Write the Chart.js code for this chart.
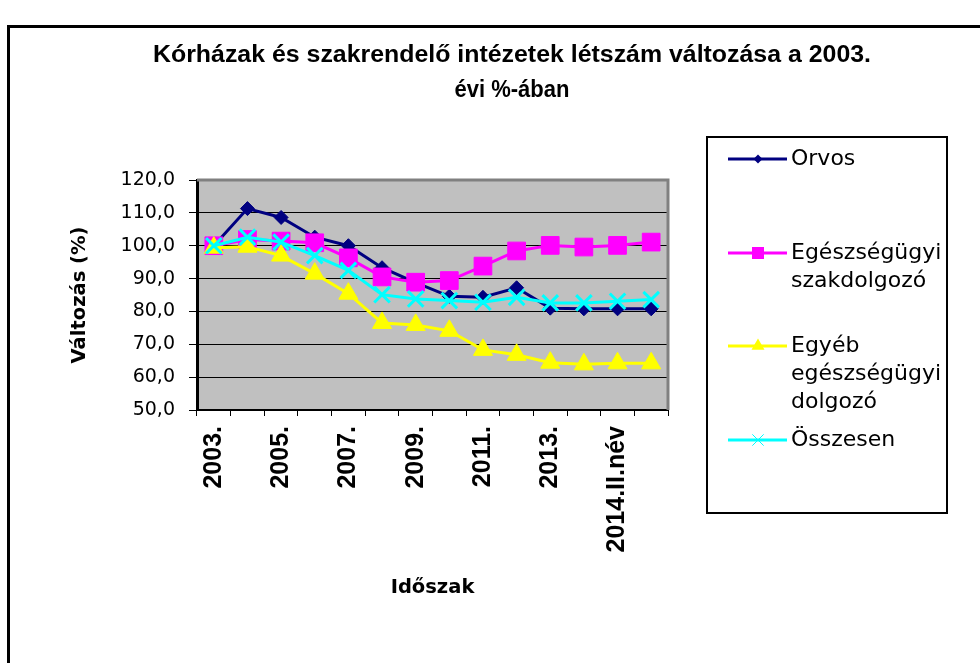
<!DOCTYPE html>
<html>
<head>
<meta charset="utf-8">
<script src="https://cdn.jsdelivr.net/npm/chart.js@4/dist/chart.umd.min.js"></script>
<style>
  html, body { margin: 0; padding: 0; background: #fff; }
  #wrap { width: 980px; height: 663px; }
</style>
</head>
<body>
<div id="wrap"><canvas id="letszamChart" width="980" height="663"></canvas></div>
<script>
// Időszakok (csak minden második felirat látszik)
const periods = ['2003.', '2004.', '2005.', '2006.', '2007.', '2008.', '2009.', '2010.',
                 '2011.', '2012.', '2013.', '2014.I.név', '2014.II.név', '2015.I.név'];

const orvos        = [100.0, 111.3, 108.6, 102.6, 100.0, 93.3, 88.8, 84.6, 84.3, 87.2, 81.0, 80.8, 80.8, 80.8];
const szakdolgozo  = [100.0, 101.9, 101.4, 100.9, 96.3, 90.5, 88.9, 89.4, 93.8, 98.4, 100.1, 99.6, 100.1, 101.1];
const egyebDolgozo = [99.4, 99.7, 97.0, 91.5, 85.4, 76.5, 75.9, 74.1, 68.3, 66.8, 64.4, 63.9, 64.2, 64.2];
const osszesen     = [100.0, 102.6, 101.1, 97.0, 92.5, 85.1, 83.8, 83.3, 82.8, 84.3, 82.6, 82.6, 83.1, 83.6];

const seriesNames = ['Orvos', 'Egészségügyi\nszakdolgozó', 'Egyéb\negészségügyi\ndolgozó', 'Összesen'];
const titleLines = ['Kórházak és szakrendelő intézetek létszám változása a 2003.', 'évi %-ában'];
const yMin = 50, yMax = 120, yStep = 10;

function drawMarker(ctx, style, x, y, r) {
    ctx.beginPath();
    if (style === 'rectRot') {
        ctx.moveTo(x - r, y); ctx.lineTo(x, y - r); ctx.lineTo(x + r, y); ctx.lineTo(x, y + r);
        ctx.closePath(); ctx.fill();
    } else if (style === 'rect') {
        const s = r * Math.SQRT1_2;
        ctx.rect(x - s, y - s, 2 * s, 2 * s); ctx.fill();
    } else if (style === 'triangle') {
        ctx.moveTo(x, y - r);
        ctx.lineTo(x + r * 0.866, y + r / 2);
        ctx.lineTo(x - r * 0.866, y + r / 2);
        ctx.closePath(); ctx.fill();
    } else if (style === 'crossRot') {
        const o = r * Math.SQRT1_2;
        ctx.moveTo(x - o, y - o); ctx.lineTo(x + o, y + o);
        ctx.moveTo(x + o, y - o); ctx.lineTo(x - o, y + o);
        ctx.stroke();
    }
}

const excelLook = {
    id: 'excelLook',
    beforeDraw(chart) {
        const { ctx, chartArea: a } = chart;
        ctx.save();
        ctx.fillStyle = '#fff';
        ctx.fillRect(0, 0, chart.width, chart.height);
        // külső keret
        ctx.fillStyle = '#000';
        ctx.fillRect(7, 25, 3, chart.height - 25);
        ctx.fillRect(7, 25, chart.width - 7, 3);
        // szürke rajzterület
        ctx.fillStyle = '#c0c0c0';
        ctx.fillRect(a.left, a.top, a.right - a.left, a.bottom - a.top);
        ctx.restore();
    },
    beforeDatasetsDraw(chart) {
        const { ctx, chartArea: a } = chart;
        ctx.save();
        ctx.strokeStyle = '#808080';
        ctx.lineWidth = 3;
        ctx.beginPath();
        ctx.moveTo(a.left, a.top);
        ctx.lineTo(a.right, a.top);
        ctx.lineTo(a.right, a.bottom);
        ctx.stroke();
        ctx.restore();
    },
    afterDraw(chart) {
        const { ctx } = chart;
        ctx.save();

        // cím
        const titleWidths = [718, 115];
        const titleBase = [62, 97];
        ctx.fillStyle = '#000';
        ctx.font = 'bold 23px "Liberation Sans", Arial, sans-serif';
        ctx.textAlign = 'center';
        ctx.textBaseline = 'alphabetic';
        titleLines.forEach((line, i) => {
            const w = ctx.measureText(line).width;
            ctx.save();
            ctx.translate(512, titleBase[i]);
            ctx.scale(titleWidths[i] / w, 1);
            ctx.fillText(line, 0, 0);
            ctx.restore();
        });

        // jelmagyarázat
        const box = { x: 707, y: 137, w: 240, h: 376 };
        const entryY = [159, 253, 346, 440];
        ctx.fillStyle = '#fff';
        ctx.fillRect(box.x, box.y, box.w, box.h);
        ctx.strokeStyle = '#000';
        ctx.lineWidth = 2;
        ctx.strokeRect(box.x, box.y, box.w, box.h);

        ctx.textAlign = 'left';
        ctx.textBaseline = 'middle';
        ctx.font = '22px "DejaVu Sans", sans-serif';
        chart.data.datasets.forEach((ds, i) => {
            const y = entryY[i];
            ctx.strokeStyle = ds.borderColor;
            ctx.lineWidth = 3;
            ctx.beginPath();
            ctx.moveTo(728, y);
            ctx.lineTo(787, y);
            ctx.stroke();
            ctx.fillStyle = ds.borderColor;
            ctx.lineWidth = ds.legendMarkerWidth;
            drawMarker(ctx, ds.pointStyle, 758, y, ds.legendMarkerRadius);
            ctx.fillStyle = '#000';
            ds.label.split('\n').forEach((t, k) => ctx.fillText(t, 791, y + k * 28));
        });
        ctx.restore();
    }
};

new Chart(document.getElementById('letszamChart'), {
    type: 'line',
    data: {
        labels: periods,
        datasets: [
            {
                label: seriesNames[0], data: orvos, order: 4,
                borderColor: '#000080', backgroundColor: '#000080',
                borderWidth: 3, pointStyle: 'rectRot', pointRadius: 7, pointBorderWidth: 1,
                legendMarkerRadius: 4.5, legendMarkerWidth: 1
            },
            {
                label: seriesNames[1], data: szakdolgozo, order: 3,
                borderColor: '#ff00ff', backgroundColor: '#ff00ff',
                borderWidth: 3, pointStyle: 'rect', pointRadius: 12.5, pointBorderWidth: 1,
                legendMarkerRadius: 8.5, legendMarkerWidth: 1
            },
            {
                label: seriesNames[2], data: egyebDolgozo, order: 2,
                borderColor: '#ffff00', backgroundColor: '#ffff00',
                borderWidth: 3, pointStyle: 'triangle', pointRadius: 11, pointBorderWidth: 1,
                legendMarkerRadius: 7.5, legendMarkerWidth: 1
            },
            {
                label: seriesNames[3], data: osszesen, order: 1,
                borderColor: '#00ffff', backgroundColor: '#00ffff',
                borderWidth: 3, pointStyle: 'crossRot', pointRadius: 11, pointBorderWidth: 3,
                legendMarkerRadius: 8, legendMarkerWidth: 1
            }
        ]
    },
    options: {
        responsive: false,
        animation: false,
        layout: { padding: { left: 60, top: 180, right: 312, bottom: 0 } },
        plugins: {
            legend: { display: false },
            title: { display: false },
            tooltip: { enabled: false }
        },
        elements: { line: { tension: 0 } },
        scales: {
            x: {
                offset: true,
                afterFit: (scale) => { scale.height = 253; },
                grid: { display: true, drawOnChartArea: false, drawTicks: true, tickLength: 6, color: '#000', offset: true },
                border: { display: true, color: '#000', width: 2 },
                ticks: {
                    autoSkip: false, minRotation: 90, maxRotation: 90, padding: 10,
                    color: '#000',
                    font: { family: '"Liberation Sans", Arial, sans-serif', size: 25, weight: 'bold' },
                    callback: function (value, index) {
                        return index % 2 === 0 ? this.getLabelForValue(value) : '';
                    }
                },
                title: {
                    display: true, text: 'Időszak', color: '#000',
                    font: { family: '"DejaVu Sans", sans-serif', size: 19.5, weight: 'bold' },
                    padding: { top: 0, bottom: 63 }
                }
            },
            y: {
                min: yMin, max: yMax,
                afterFit: (scale) => { scale.width = 137; },
                grid: { color: '#000', lineWidth: 1, drawTicks: true, tickLength: 8 },
                border: { display: true, color: '#000', width: 3 },
                ticks: {
                    stepSize: yStep, padding: 14, color: '#000',
                    font: { family: '"DejaVu Sans", sans-serif', size: 19 },
                    callback: (v) => v.toFixed(1).replace('.', ',')
                },
                title: {
                    display: true, text: 'Változás (%)', color: '#000',
                    font: { family: '"DejaVu Sans", sans-serif', size: 19.5, weight: 'bold' },
                    padding: { top: 8, bottom: 0 }
                }
            }
        }
    },
    plugins: [excelLook]
});
</script>
</body>
</html>
